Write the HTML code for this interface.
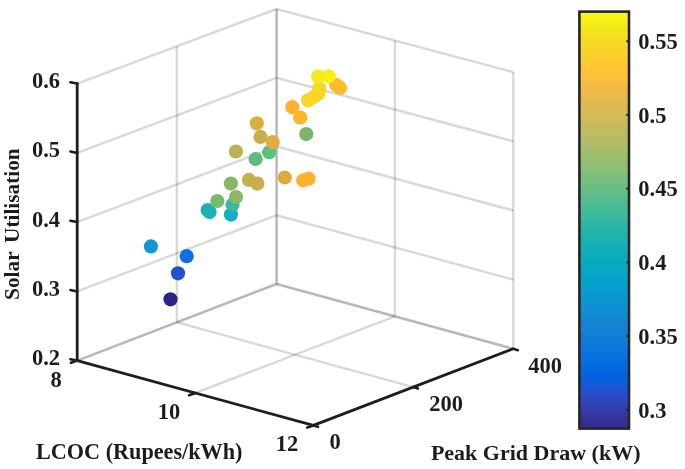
<!DOCTYPE html>
<html><head><meta charset="utf-8"><title>Scatter plot</title>
<style>
html,body{margin:0;padding:0;background:#fff;}
body{width:685px;height:469px;overflow:hidden;}
svg{display:block;}
.g{stroke:rgba(0,0,0,0.15);stroke-width:2.5;fill:none;}
.a{stroke:#1e1e1e;stroke-width:2.8;fill:none;stroke-linejoin:round;}
.k{stroke:#1e1e1e;stroke-width:2.6;fill:none;stroke-linecap:round;}
.n{font-size:22.5px !important;}
.t{font-family:"Liberation Serif","Times New Roman",serif;font-weight:bold;font-size:22px;fill:#1c1c1c;}
</style></head><body>
<svg width="685" height="469" viewBox="0 0 685 469">
<defs><linearGradient id="pg" x1="0" y1="0" x2="0" y2="1">
<stop offset="0.0000" stop-color="#f9fb0e"/>
<stop offset="0.0312" stop-color="#f5eb18"/>
<stop offset="0.0625" stop-color="#f5de21"/>
<stop offset="0.0938" stop-color="#f9d329"/>
<stop offset="0.1250" stop-color="#fec932"/>
<stop offset="0.1562" stop-color="#febf3c"/>
<stop offset="0.1875" stop-color="#f2b949"/>
<stop offset="0.2188" stop-color="#e3b951"/>
<stop offset="0.2500" stop-color="#d3bb58"/>
<stop offset="0.2812" stop-color="#c2bc5f"/>
<stop offset="0.3125" stop-color="#b1bd66"/>
<stop offset="0.3438" stop-color="#9fbe6d"/>
<stop offset="0.3750" stop-color="#8bbf75"/>
<stop offset="0.4062" stop-color="#75bf7e"/>
<stop offset="0.4375" stop-color="#5ebe89"/>
<stop offset="0.4688" stop-color="#47bb95"/>
<stop offset="0.5000" stop-color="#33b8a1"/>
<stop offset="0.5312" stop-color="#21b4ac"/>
<stop offset="0.5625" stop-color="#13b0b6"/>
<stop offset="0.5938" stop-color="#09abbf"/>
<stop offset="0.6250" stop-color="#06a6c7"/>
<stop offset="0.6562" stop-color="#069fce"/>
<stop offset="0.6875" stop-color="#0a97d1"/>
<stop offset="0.7188" stop-color="#118dd2"/>
<stop offset="0.7500" stop-color="#1484d4"/>
<stop offset="0.7812" stop-color="#127cd8"/>
<stop offset="0.8125" stop-color="#0c74dd"/>
<stop offset="0.8438" stop-color="#046ce0"/>
<stop offset="0.8750" stop-color="#0462e0"/>
<stop offset="0.9062" stop-color="#2152d3"/>
<stop offset="0.9375" stop-color="#3243b9"/>
<stop offset="0.9688" stop-color="#36369f"/>
<stop offset="1.0000" stop-color="#352a87"/>
</linearGradient></defs>
<rect width="685" height="469" fill="#fff"/>
<g><line x1="176.9" y1="322.3" x2="176.9" y2="46.3" class="g"/>
<line x1="276.6" y1="284.0" x2="276.6" y2="9.0" class="g"/>
<line x1="77.2" y1="360.6" x2="276.6" y2="284.0" class="g"/>
<line x1="77.2" y1="291.4" x2="276.6" y2="215.2" class="g"/>
<line x1="77.2" y1="222.1" x2="276.6" y2="146.5" class="g"/>
<line x1="77.2" y1="152.9" x2="276.6" y2="77.8" class="g"/>
<line x1="77.2" y1="83.6" x2="276.6" y2="9.0" class="g"/>
<line x1="276.6" y1="284.0" x2="276.6" y2="9.0" class="g"/>
<line x1="394.9" y1="316.4" x2="394.9" y2="40.5" class="g"/>
<line x1="513.3" y1="348.8" x2="513.3" y2="72.1" class="g"/>
<line x1="276.6" y1="284.0" x2="513.3" y2="348.8" class="g"/>
<line x1="276.6" y1="215.2" x2="513.3" y2="279.6" class="g"/>
<line x1="276.6" y1="146.5" x2="513.3" y2="210.5" class="g"/>
<line x1="276.6" y1="77.8" x2="513.3" y2="141.3" class="g"/>
<line x1="276.6" y1="9.0" x2="513.3" y2="72.1" class="g"/>
<line x1="77.2" y1="360.6" x2="276.6" y2="284.0" class="g"/>
<line x1="195.3" y1="393.0" x2="394.9" y2="316.4" class="g"/>
<line x1="176.9" y1="322.3" x2="413.3" y2="387.1" class="g"/>
<line x1="276.6" y1="284.0" x2="513.3" y2="348.8" class="g"/></g>
<g><circle cx="170.5" cy="299.3" r="7.1" fill="#2d2585"/>
<circle cx="178.0" cy="273.3" r="7.1" fill="#2250d0"/>
<circle cx="186.7" cy="256.2" r="7.1" fill="#1170e0"/>
<circle cx="150.9" cy="246.4" r="7.1" fill="#1496d0"/>
<circle cx="230.9" cy="214.6" r="7.1" fill="#12b0c0"/>
<circle cx="207.6" cy="210.1" r="7.1" fill="#1fb0b5"/>
<circle cx="209.6" cy="212.1" r="7.1" fill="#1fb0b5"/>
<circle cx="232.5" cy="204.7" r="7.1" fill="#3ab8a0"/>
<circle cx="217.3" cy="201.0" r="7.1" fill="#7aba6f"/>
<circle cx="236.0" cy="197.0" r="7.1" fill="#8ab865"/>
<circle cx="230.9" cy="183.6" r="7.1" fill="#86b868"/>
<circle cx="248.9" cy="179.9" r="7.1" fill="#c2b050"/>
<circle cx="257.4" cy="183.6" r="7.1" fill="#c9ae4a"/>
<circle cx="284.8" cy="177.5" r="7.1" fill="#e0aa3e"/>
<circle cx="303.2" cy="180.3" r="7.1" fill="#fdb32e"/>
<circle cx="308.6" cy="178.7" r="7.1" fill="#fdb32e"/>
<circle cx="235.9" cy="151.5" r="7.1" fill="#bdb052"/>
<circle cx="255.6" cy="159.0" r="7.1" fill="#5cbd7e"/>
<circle cx="269.2" cy="152.2" r="7.1" fill="#5fbf7f"/>
<circle cx="272.7" cy="142.1" r="7.1" fill="#e0ad3d"/>
<circle cx="260.5" cy="136.9" r="7.1" fill="#c5b04d"/>
<circle cx="256.8" cy="123.3" r="7.1" fill="#d9b040"/>
<circle cx="306.3" cy="134.1" r="7.1" fill="#7db36b"/>
<circle cx="300.2" cy="117.4" r="7.1" fill="#fdb42d"/>
<circle cx="292.2" cy="107.1" r="7.1" fill="#fcb030"/>
<circle cx="340.0" cy="88.0" r="7.1" fill="#fdb92a"/>
<circle cx="336.0" cy="84.8" r="7.1" fill="#fcbb2b"/>
<circle cx="308.1" cy="100.2" r="7.1" fill="#f6d824"/>
<circle cx="314.2" cy="96.7" r="7.1" fill="#f6d725"/>
<circle cx="318.4" cy="93.6" r="7.1" fill="#f7d626"/>
<circle cx="319.3" cy="88.6" r="7.1" fill="#f7d824"/>
<circle cx="318.1" cy="76.7" r="7.1" fill="#f5e81d"/>
<circle cx="328.6" cy="76.3" r="7.1" fill="#f6f014"/></g>
<g><polyline points="77.2,82.4 77.2,360.6 313.4,425.4 513.3,348.8" class="a"/>
<line x1="77.2" y1="360.6" x2="70.4" y2="359.2" class="k"/>
<line x1="77.2" y1="291.4" x2="70.4" y2="290.0" class="k"/>
<line x1="77.2" y1="222.1" x2="70.4" y2="220.7" class="k"/>
<line x1="77.2" y1="152.9" x2="70.4" y2="151.5" class="k"/>
<line x1="77.2" y1="83.6" x2="70.4" y2="82.2" class="k"/>
<line x1="77.2" y1="360.6" x2="71.0" y2="362.8" class="k"/>
<line x1="195.3" y1="393.0" x2="189.1" y2="395.2" class="k"/>
<line x1="313.4" y1="425.4" x2="307.2" y2="427.6" class="k"/>
<line x1="313.4" y1="425.4" x2="318.0" y2="426.8" class="k"/>
<line x1="413.3" y1="387.1" x2="417.9" y2="388.5" class="k"/>
<line x1="513.3" y1="348.8" x2="517.9" y2="350.2" class="k"/></g>
<g><rect x="579.4" y="11.6" width="49.6" height="417" fill="url(#pg)" stroke="#262626" stroke-width="2.6"/>
<line x1="629" y1="41.2" x2="626.2" y2="41.2" class="a" style="stroke-width:1.8"/>
<line x1="629" y1="114.9" x2="626.2" y2="114.9" class="a" style="stroke-width:1.8"/>
<line x1="629" y1="188.6" x2="626.2" y2="188.6" class="a" style="stroke-width:1.8"/>
<line x1="629" y1="262.3" x2="626.2" y2="262.3" class="a" style="stroke-width:1.8"/>
<line x1="629" y1="336" x2="626.2" y2="336" class="a" style="stroke-width:1.8"/>
<line x1="629" y1="409.7" x2="626.2" y2="409.7" class="a" style="stroke-width:1.8"/></g>
<g><text x="638.3" y="49" class="t n">0.55</text>
<text x="638.3" y="122.7" class="t n">0.5</text>
<text x="638.3" y="196.4" class="t n">0.45</text>
<text x="638.3" y="270.1" class="t n">0.4</text>
<text x="638.3" y="343.8" class="t n">0.35</text>
<text x="638.3" y="417.5" class="t n">0.3</text>
<text x="60" y="364.6" class="t n" text-anchor="end">0.2</text>
<text x="60" y="295.5" class="t n" text-anchor="end">0.3</text>
<text x="60" y="226.5" class="t n" text-anchor="end">0.4</text>
<text x="60" y="157.4" class="t n" text-anchor="end">0.5</text>
<text x="60" y="88.3" class="t n" text-anchor="end">0.6</text>
<text x="56.2" y="386.5" class="t n" text-anchor="middle">8</text>
<text x="169" y="419" class="t n" text-anchor="middle">10</text>
<text x="287" y="450.8" class="t n" text-anchor="middle">12</text>
<text x="335" y="448.7" class="t n" text-anchor="middle">0</text>
<text x="446" y="411" class="t n" text-anchor="middle">200</text>
<text x="545" y="372.6" class="t n" text-anchor="middle">400</text>
<text x="36" y="459.3" class="t" style="font-size:22.2px">LCOC (Rupees/kWh)</text>
<text x="430.9" y="459.7" class="t">Peak Grid Draw (kW)</text>
<text transform="translate(19.2,299.9) rotate(-90)" class="t" style="font-size:21.3px;word-spacing:3.5px">Solar Utilisation</text></g>
</svg>
</body></html>
